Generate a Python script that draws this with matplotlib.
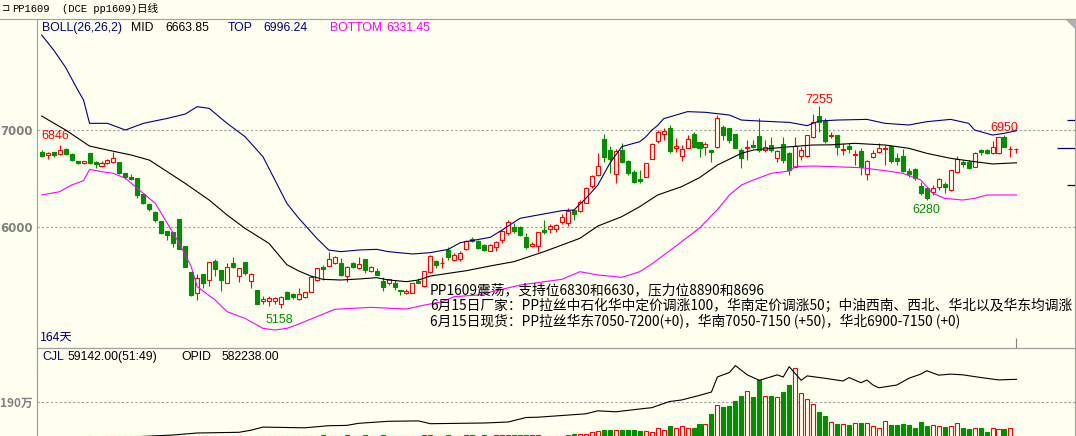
import matplotlib
matplotlib.use("Agg")
import matplotlib.pyplot as plt
from matplotlib.lines import Line2D
from matplotlib.patches import Polygon

# ---------------- data ----------------
opens = [6779, 6744, 6772, 6751, 6803, 6755, 6679, 6658, 6761, 6672, 6630, 6665, 6675, 6675, 6562, 6520,
         6510, 6341, 6234, 6158, 6062, 5958, 5951, 6082, 5807, 5538, 5314, 5514, 5452, 5645, 5555, 5424,
         5624, 5496, 5634, 5441, 5345, 5235, 5231, 5234, 5203, 5324, 5303, 5252, 5273, 5331, 5452, 5590,
         5600, 5624, 5624, 5493, 5624, 5573, 5666, 5548, 5548, 5445, 5424, 5424, 5348, 5314, 5321, 5445,
         5390, 5538, 5652, 5624, 5762, 5659, 5666, 5769, 5876, 5859, 5810, 5755, 5797, 5866, 5934, 6003,
         6003, 5900, 5803, 5803, 5969, 5976, 5976, 6055, 6045, 6176, 6169, 6252, 6424, 6538, 6913, 6796,
         6548, 6796, 6679, 6572, 6496, 6514, 6707, 6893, 6958, 7020, 6813, 6738, 6820, 6958, 6882, 6831,
         6796, 6831, 7034, 7020, 6958, 6796, 6813, 6848, 6941, 6796, 6848, 6717, 6855, 6762, 6624, 6738,
         6738, 6934, 7151, 7096, 6941, 6951, 6796, 6838, 6741, 6789, 6548, 6727, 6779, 6807, 6838, 6717,
         6734, 6583, 6596, 6424, 6400, 6365, 6410, 6445, 6383, 6572, 6669, 6676, 6624, 6796, 6796, 6762,
         6762, 6927, 6807, 6807]
highs = [6796, 6779, 6779, 6846, 6813, 6761, 6686, 6686, 6768, 6679, 6682, 6699, 6779, 6675, 6562, 6548,
         6510, 6341, 6251, 6165, 6065, 5958, 5951, 6082, 5807, 5538, 5514, 5514, 5641, 5665, 5555, 5631,
         5686, 5572, 5634, 5521, 5345, 5286, 5286, 5279, 5286, 5341, 5313, 5366, 5331, 5493, 5580, 5607,
         5745, 5700, 5676, 5597, 5641, 5693, 5666, 5600, 5579, 5486, 5459, 5452, 5348, 5362, 5424, 5469,
         5548, 5710, 5659, 5686, 5790, 5727, 5755, 5866, 5893, 5866, 5824, 5824, 5859, 5969, 6072, 6038,
         6010, 5934, 5848, 5952, 6072, 6031, 6031, 6134, 6193, 6183, 6279, 6417, 6538, 6762, 6962, 6838,
         6803, 6872, 6693, 6589, 6589, 6665, 6865, 7003, 7027, 7055, 6917, 6848, 6951, 6979, 6882, 6882,
         6796, 7158, 7055, 7027, 6958, 6813, 6900, 6900, 7124, 6900, 6934, 6796, 6934, 6779, 6934, 6831,
         6951, 7165, 7255, 7124, 6986, 6951, 6865, 6865, 6796, 6814, 6693, 6796, 6865, 6848, 6848, 6762,
         6803, 6607, 6607, 6469, 6400, 6434, 6503, 6469, 6589, 6734, 6693, 6693, 6779, 6803, 6803, 6893,
         6934, 6950, 6838, 6813]
lows = [6720, 6699, 6720, 6744, 6744, 6686, 6648, 6648, 6651, 6606, 6624, 6651, 6665, 6548, 6493, 6486,
        6303, 6238, 6162, 6051, 5927, 5865, 5796, 5769, 5583, 5286, 5245, 5365, 5390, 5496, 5341, 5417,
        5572, 5434, 5503, 5365, 5200, 5203, 5183, 5203, 5158, 5252, 5259, 5245, 5262, 5324, 5445, 5452,
        5600, 5617, 5493, 5434, 5572, 5566, 5521, 5531, 5500, 5342, 5397, 5348, 5297, 5303, 5314, 5417,
        5376, 5521, 5572, 5572, 5659, 5652, 5650, 5762, 5845, 5769, 5755, 5755, 5755, 5831, 5917, 5934,
        5907, 5769, 5797, 5745, 5928, 5941, 5952, 6031, 6010, 6072, 6159, 6245, 6400, 6527, 6676, 6555,
        6452, 6665, 6538, 6452, 6452, 6514, 6707, 6865, 6900, 6762, 6779, 6682, 6813, 6820, 6727, 6745,
        6669, 6813, 6900, 6865, 6813, 6613, 6693, 6813, 6779, 6779, 6779, 6676, 6658, 6538, 6624, 6693,
        6727, 6924, 6985, 6865, 6917, 6744, 6744, 6762, 6641, 6538, 6486, 6710, 6762, 6641, 6658, 6641,
        6572, 6520, 6486, 6331, 6280, 6331, 6383, 6348, 6376, 6562, 6624, 6596, 6624, 6745, 6755, 6755,
        6755, 6824, 6720, 6769]
closes = [6734, 6768, 6744, 6796, 6755, 6692, 6658, 6679, 6665, 6651, 6665, 6692, 6717, 6555, 6520, 6500,
          6331, 6251, 6182, 6072, 5934, 5917, 5831, 5769, 5589, 5293, 5472, 5417, 5634, 5562, 5452, 5590,
          5583, 5572, 5520, 5514, 5200, 5255, 5265, 5265, 5279, 5259, 5279, 5310, 5331, 5486, 5573, 5569,
          5666, 5693, 5504, 5583, 5590, 5617, 5555, 5590, 5500, 5376, 5459, 5376, 5341, 5341, 5417, 5424,
          5548, 5700, 5607, 5631, 5693, 5710, 5735, 5859, 5852, 5779, 5762, 5814, 5845, 5962, 6052, 5959,
          5917, 5797, 5824, 5948, 5952, 6010, 6021, 6100, 6169, 6134, 6259, 6403, 6527, 6631, 6727, 6700,
          6789, 6676, 6555, 6469, 6479, 6658, 6858, 6986, 6992, 6789, 6838, 6807, 6910, 6831, 6820, 6855,
          6772, 7124, 6951, 6900, 6813, 6717, 6831, 6831, 6796, 6831, 6796, 6786, 6693, 6589, 6841, 6796,
          6951, 7082, 7089, 6889, 6951, 6831, 6807, 6807, 6752, 6624, 6686, 6762, 6814, 6820, 6686, 6686,
          6583, 6548, 6503, 6355, 6296, 6400, 6493, 6417, 6589, 6700, 6648, 6607, 6769, 6776, 6762, 6824,
          6927, 6831, 6810, 6810]
volumes = [45000, 48000, 42000, 50000, 46000, 52000, 47000, 50000, 55000, 52000, 50000, 54000, 58000, 60000,
           58000, 55000, 62000, 60000, 58000, 62000, 65000, 60000, 64000, 66000, 70000, 72000, 95000, 95000,
           95000, 70000, 72000, 70000, 74000, 72000, 74000, 76000, 95000, 95000, 76000, 75000, 95000, 95000,
           78000, 80000, 100000, 105000, 100000, 110000, 105000, 100000, 105000, 108000, 100000, 104000,
           108000, 100000, 105000, 110000, 100000, 104000, 100000, 102000, 104000, 100000, 110000, 115000,
           105000, 100000, 110000, 104000, 106000, 115000, 108000, 105000, 110000, 106000, 108000, 112000,
           120000, 110000, 108000, 115000, 110000,
           132000, 95000, 95000, 95000, 95000, 151000, 169000, 169000, 169000, 280000, 371000, 427000,
           390000, 390000, 390000, 390000, 390000, 335000, 371000, 317000, 500000, 390000, 611000, 500000,
           592000, 500000, 500000, 721000, 721000, 1290000, 1750000, 1660000, 1720000, 1940000, 2210000,
           2520000, 2160000, 3080000, 2210000, 2210000, 2160000, 2430000, 2820000, 3740000, 2390000,
           2080000, 1810000, 1380000, 1160000, 812000, 721000, 721000, 667000, 775000, 775000, 775000,
           592000, 500000, 866000, 667000, 667000, 721000, 667000, 500000, 834000, 611000, 667000, 611000,
           554000, 611000, 775000, 500000, 446000, 500000, 500000, 280000, 500000, 446000, 446000, 500000,
           59142]

mid_idx = [0, 4, 8, 11, 15, 18, 21, 24, 28, 31, 34, 38, 41, 43, 45, 47, 50, 53, 56, 58, 61, 63, 65, 68,
           71, 75, 79, 84, 90, 93, 97, 100, 103, 107, 110, 113, 117, 119, 122, 126, 129, 132, 136, 141,
           145, 148, 152, 156, 159, 163]
mid_val = [7147, 7003, 6837, 6796, 6744, 6692, 6572, 6451, 6279, 6124, 5986, 5831, 5610, 5545, 5493,
           5459, 5452, 5462, 5476, 5452, 5435, 5452, 5493, 5521, 5548, 5597, 5642, 5745, 5883, 6010, 6107,
           6210, 6331, 6417, 6510, 6641, 6762, 6796, 6813, 6834, 6848, 6850, 6865, 6848, 6814, 6762, 6710,
           6676, 6652, 6664]
top_idx = [0, 2, 4, 6, 7, 8, 11, 14, 17, 21, 24, 26, 28, 31, 34, 37, 39, 41, 43, 44, 46, 48, 50, 53, 56,
           58, 62, 65, 68, 70, 75, 77, 80, 83, 87, 89, 91, 93, 95, 97, 99, 100, 101, 102, 103, 104, 108,
           111, 115, 117, 120, 125, 128, 130, 133, 138, 141, 145, 148, 152, 155, 156, 159, 161, 163]
top_val = [7985, 7830, 7650, 7420, 7313, 7072, 7072, 7003, 7072, 7123, 7168, 7244, 7227, 7072, 6934,
           6727, 6486, 6244, 6089, 6021, 5883, 5762, 5745, 5762, 5769, 5745, 5721, 5735, 5769, 5838, 5893,
           5969, 6090, 6124, 6169, 6176, 6296, 6434, 6658, 6831, 6865, 6882, 6930, 7000, 7050, 7120, 7193,
           7186, 7158, 7106, 7096, 7082, 7048, 7096, 7106, 7113, 7072, 7055, 7089, 7113, 7072, 7003, 6951,
           6969, 6996]
bot_idx = [0, 3, 5, 7, 8, 10, 12, 14, 16, 19, 21, 23, 25, 26, 29, 31, 34, 37, 39, 41, 43, 49, 55, 61,
           64, 67, 69, 73, 80, 87, 90, 93, 97, 100, 102, 106, 110, 113, 115, 117, 119, 122, 125, 126, 129,
           132, 137, 141, 144, 147, 149, 151, 154, 156, 158, 163]
bot_val = [6331, 6365, 6434, 6479, 6596, 6572, 6555, 6503, 6400, 6244, 6038, 5831, 5590, 5383, 5245,
           5124, 5055, 4952, 4935, 4952, 4997, 5149, 5169, 5152, 5193, 5228, 5280, 5297, 5400, 5459, 5538,
           5504, 5480, 5538, 5617, 5800, 5990, 6180, 6331, 6434, 6486, 6555, 6579, 6624, 6631, 6625, 6613,
           6583, 6555, 6486, 6348, 6296, 6279, 6296, 6331, 6331]
oi_idx = [13, 17, 22, 26, 33, 35, 37, 44, 48, 51, 53, 58, 63, 65, 74, 78, 81, 83, 91, 93, 96, 100, 102,
          105, 107, 110, 112, 113, 115, 116, 118, 120, 123, 124, 125, 127, 128, 131, 134, 135, 137, 138,
          139, 140, 143, 145, 147, 148, 150, 152, 154, 157, 160, 163]
oi_val = [80000, 89500, 101600, 118800, 124900, 143000, 169700, 163700, 181800, 184400, 202500, 219800,
          223300, 199100, 205100, 213700, 252600, 255200, 284500, 310400, 301800, 326000, 337200, 390700,
          403600, 443300, 472600, 602900, 640900, 700400, 620200, 573600, 620200, 602000, 691000, 573600,
          611600, 590900, 567600, 597000, 553000, 576000, 533000, 509000, 533000, 591000, 627000, 656000,
          618000, 627000, 621000, 598000, 577000, 582238]

price_ticks = [6000, 7000]
vol_tick = 1900000

# ---------------- layout ----------------
W, H = 1076, 436
BG = '#FFFFF0'
RED = '#FF0000'
GREEN = '#008F00'
NAVY = '#000080'
MAG = '#FF00FF'
FRAME = '#A0A0A0'
GRAYTXT = '#808080'

fig = plt.figure(figsize=(W / 100, H / 100), dpi=100, facecolor=BG)


def fx(x):
    return x / W


def fy(y):
    return 1 - y / H


x_left_px, x_right_px = 37, 1075
x0_px, step_px = 41.7, 5.98
xlim = ((x_left_px - x0_px) / step_px, (x_right_px - x0_px) / step_px)

# main panel
ax = fig.add_axes([fx(37), fy(348), (1075 - 37) / W, (348 - 19) / H])
ax.set_facecolor(BG)
ax.set_xlim(*xlim)
ppx = 10.341
ax.set_ylim(7000 - (348 - 130.3) * ppx, 7000 + (130.3 - 19) * ppx)

# volume panel (extends slightly below the figure)
axv = fig.add_axes([fx(37), fy(437.5), (1075 - 37) / W, (437.5 - 348) / H])
axv.set_facecolor(BG)
axv.set_xlim(*xlim)
axv.set_ylim(0, (437.5 - 348) * 53800)
axo = axv.twinx()
axo.set_ylim(80000, 80000 + (437.5 - 348) * 8630)
axo.set_xlim(*xlim)

for a in (ax, axv, axo):
    a.set_xticks([])
    for s in a.spines.values():
        s.set_color(FRAME)
        s.set_linewidth(0.8)
axv.spines['bottom'].set_visible(False)
axo.spines['bottom'].set_visible(False)
ax.spines['top'].set_visible(False)

# grid lines
for p in price_ticks:
    ax.axhline(p, color=FRAME, lw=0.8, ls=(0, (2, 2)), zorder=1)
ax.set_yticks(price_ticks)
ax.set_yticklabels([str(p) for p in price_ticks], color=GRAYTXT, fontsize=8.5,
                   fontweight='bold', family='DejaVu Sans')
ax.tick_params(axis='y', length=0, pad=3)

axv.axhline(vol_tick, color=FRAME, lw=0.8, ls=(0, (2, 2)), zorder=1)
axv.set_yticks([vol_tick])
axv.set_yticklabels(['190万'], color=GRAYTXT, fontsize=8.5, fontweight='bold',
                    family=['Noto Sans CJK SC', 'DejaVu Sans'])
axv.tick_params(axis='y', length=0, pad=3)
axo.set_yticks([])

# candles
bw = 0.67
for i, (o, h, l, c) in enumerate(zip(opens, highs, lows, closes)):
    up = c >= o
    col = RED if up else GREEN
    lo_b, hi_b = min(o, c), max(o, c)
    if up:
        ax.vlines(i, l, lo_b, color=col, lw=0.8, zorder=2)
        ax.vlines(i, hi_b, h, color=col, lw=0.8, zorder=2)
        ax.bar(i, max(hi_b - lo_b, 4), bottom=lo_b, width=bw, facecolor=BG, edgecolor=col,
               linewidth=0.8, zorder=3)
    else:
        ax.vlines(i, l, h, color=col, lw=0.8, zorder=2)
        ax.bar(i, max(hi_b - lo_b, 4), bottom=lo_b, width=bw, facecolor=col, edgecolor=col,
               linewidth=0.8, zorder=3)

# bollinger
ax.plot(mid_idx, mid_val, color='black', lw=0.8, zorder=4)
ax.plot(top_idx, top_val, color=NAVY, lw=0.8, zorder=4)
ax.plot(bot_idx, bot_val, color=MAG, lw=0.8, zorder=4)

# extreme labels
n = len(closes)
imax = max(range(n), key=lambda k: highs[k])
lab = dict(fontsize=9, family='Liberation Sans', textcoords='offset points')
ax.annotate(str(highs[3]), (3, highs[3]), xytext=(-13.5, 2), color=RED, ha='left', va='bottom', **lab)
ax.annotate(str(lows[40]), (40, lows[40]), xytext=(-1, -4), color=GREEN, ha='center', va='top', **lab)
ax.annotate(str(highs[imax]), (imax, highs[imax]), xytext=(0, 0), color=RED, ha='center', va='bottom',
            **lab)
ax.annotate(str(highs[161]), (161, highs[161]), xytext=(0, 1), color=RED, ha='center', va='bottom', **lab)
ax.annotate(str(lows[148]), (148, lows[148]), xytext=(0, -3), color=GREEN, ha='center', va='top', **lab)

# right-edge marks
for p, a0 in [(7106, 171.5), (6817, 169.7), (6434, 171.5)]:
    ax.hlines(p, a0, xlim[1], color=NAVY, lw=0.9, zorder=4)

# cursor tick at last bar
ax.vlines(n - 1, ax.get_ylim()[0], ax.get_ylim()[0] + 10 * ppx, color=GRAYTXT, lw=0.8, zorder=4)

# volume bars
for i, v in enumerate(volumes):
    up = closes[i] >= opens[i]
    col = RED if up else GREEN
    axv.bar(i, v, width=bw, facecolor=BG if up else col, edgecolor=col, linewidth=0.8, zorder=3)
axo.plot(oi_idx, oi_val, color='black', lw=0.8, zorder=4)

# frame lines on figure
fig.add_artist(Line2D([0, 1], [fy(19), fy(19)], color=FRAME, lw=0.8))
fig.add_artist(Polygon([[fx(1066), fy(19)], [fx(1075), fy(19)], [fx(1075), fy(28)]],
                       closed=True, color='#B0B0B0'))

# texts
cjk = ['Noto Sans CJK SC', 'DejaVu Sans']
mono = ['Liberation Mono', 'Noto Sans CJK SC']
fig.text(fx(2), fy(8), '⊐', fontsize=7, color='black', va='center', ha='left', family='DejaVu Sans')
fig.text(fx(12), fy(8.5), 'PP1609', fontsize=7.6, color='black', va='center', ha='left', family=mono)
fig.text(fx(62), fy(8.5), '(DCE pp1609)日线', fontsize=7.6, color='black', va='center', ha='left',
         family=mono)

leg_y = fy(28)
lf = dict(fontsize=8.8, va='center', ha='left', family='Liberation Sans')
fig.text(fx(42), leg_y, 'BOLL(26,26,2)', color=NAVY, **lf)
fig.text(fx(131), leg_y, 'MID', color='black', **lf)
fig.text(fx(165), leg_y, '%.2f' % 6663.85, color='black', **lf)
fig.text(fx(228), leg_y, 'TOP', color=NAVY, **lf)
fig.text(fx(263), leg_y, '%.2f' % 6996.24, color=NAVY, **lf)
fig.text(fx(330), leg_y, 'BOTTOM', color=MAG, **lf)
fig.text(fx(386), leg_y, '%.2f' % 6331.45, color=MAG, **lf)

fig.text(fx(40), fy(337), '164天', color=NAVY, fontsize=8.8, va='center', ha='left', family=cjk)

vl_y = fy(357)
fig.text(fx(42), vl_y, 'CJL', color=NAVY, **lf)
fig.text(fx(68), vl_y, '59142.00(51:49)', color='black', **lf)
fig.text(fx(181), vl_y, 'OPID', color='black', **lf)
fig.text(fx(221), vl_y, '582238.00', color='black', **lf)

notes = ['PP1609震荡，支持位6830和6630，压力位8890和8696',
         '6月15日厂家：PP拉丝中石化华中定价调涨100，华南定价调涨50；中油西南、西北、华北以及华东均调涨',
         '6月15日现货：PP拉丝华东7050-7200(+0)，华南7050-7150 (+50)，华北6900-7150 (+0)']
for k, t in enumerate(notes):
    fig.text(fx(430), fy(290 + 15.7 * k), t, color='black', fontsize=9.9, va='center', ha='left',
             family=cjk)

fig.savefig('out.png', dpi=100, facecolor=BG)
